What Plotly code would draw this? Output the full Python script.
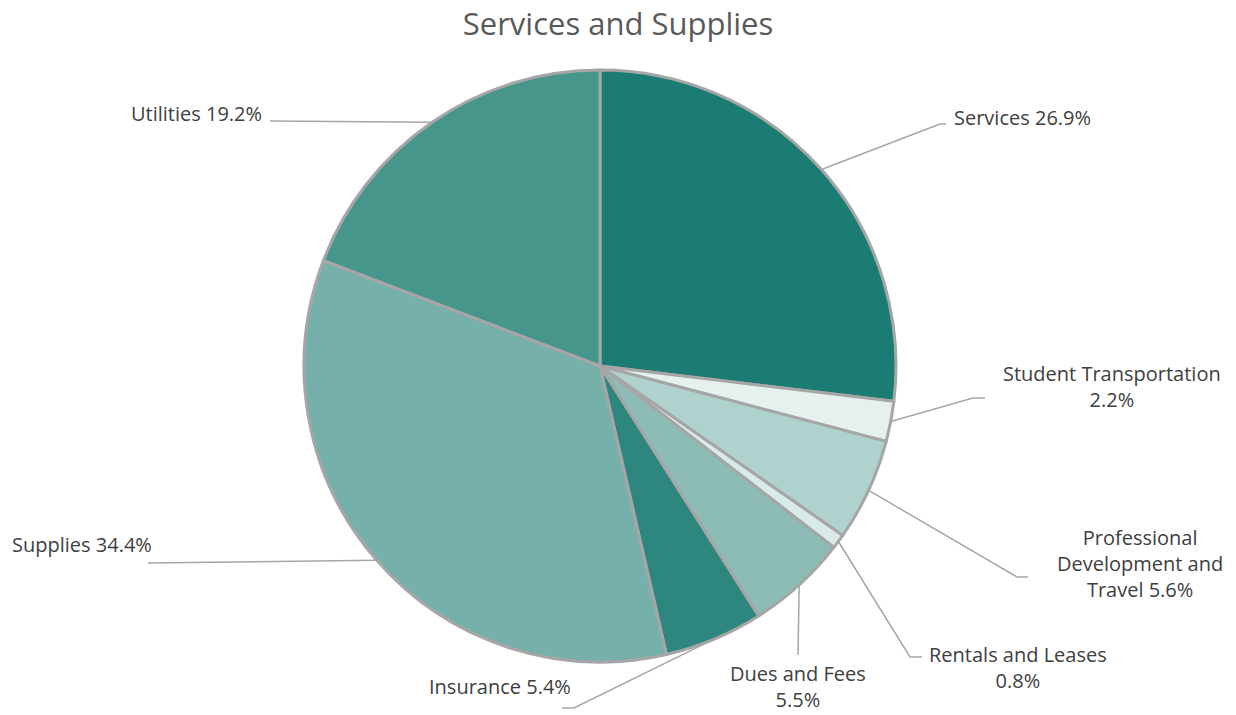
import math
import plotly.graph_objects as go

# ---- data ----
categories = ["Services", "Student Transportation", "Professional Development and Travel",
              "Rentals and Leases", "Dues and Fees", "Insurance", "Supplies", "Utilities"]
shares = [26.9, 2.2, 5.6, 0.8, 5.5, 5.4, 34.4, 19.2]
label_texts = ["Services 26.9%", "Student Transportation<br>2.2%",
               "Professional<br>Development and<br>Travel 5.6%", "Rentals and Leases<br>0.8%",
               "Dues and Fees<br>5.5%", "Insurance 5.4%", "Supplies 34.4%", "Utilities 19.2%"]

# ---- styling / layout ----
colors = ["#1b7c73", "#e6f1ef", "#b0d2ce", "#d8ebe8", "#8dbcb6", "#2e877f", "#76b0aa", "#46968c"]
W, H = 1236, 715
CX, CY, R = 600, 366, 296
# label anchor (x, y, anchor side)
label_pos = [(952, 117, "left"), (1112, 386, "center"), (1140, 563, "center"),
             (1018, 667, "center"), (798, 686, "center"), (573, 686, "right"),
             (10, 544, "left"), (264, 113, "right")]
elbows = [((940, 124), (946, 124)), ((973, 398), (985, 398)), ((1017, 577), (1028, 577)),
          ((910, 657), (922, 657)), ((798, 655), (798, 655)), ((574, 708), (562, 708)),
          ((148, 563), (148, 563)), ((270, 121), (270, 121))]
LABEL_FONT = dict(family="Open Sans", size=20, color="#404040")

fig = go.Figure()
fig.add_trace(go.Pie(
    labels=categories, values=shares, sort=False, direction="clockwise", rotation=0,
    marker=dict(colors=colors, line=dict(color="#a6a6a6", width=3)),
    textinfo="none", hoverinfo="label+percent", showlegend=False,
    domain=dict(x=[(CX - R) / W, (CX + R) / W], y=[(H - CY - R) / H, (H - CY + R) / H]),
))

total = sum(shares)
cum = 0.0
for i, v in enumerate(shares):
    mid = (cum + v / 2) / total * 2 * math.pi
    cum += v
    ex = CX + R * math.sin(mid)
    ey = CY - R * math.cos(mid)
    (bx, by), (tx, ty) = elbows[i]
    fig.add_trace(go.Scatter(x=[ex, bx, tx], y=[ey, by, ty], mode="lines",
                             line=dict(color="#a6a6a6", width=1.5),
                             hoverinfo="skip", showlegend=False))
    lx, ly, anc = label_pos[i]
    fig.add_annotation(x=lx, y=ly, xref="x", yref="y", text=label_texts[i],
                       showarrow=False, xanchor=anc, yanchor="middle", align="center",
                       font=LABEL_FONT)

fig.update_layout(
    width=W, height=H, margin=dict(l=0, r=0, t=0, b=0),
    paper_bgcolor="white", plot_bgcolor="rgba(0,0,0,0)",
    title=dict(text="Services and Supplies", x=0.5, xanchor="center", y=1 - 24 / H, yanchor="middle",
               font=dict(family="Open Sans", size=31, color="#595959")),
    xaxis=dict(range=[0, W], visible=False, fixedrange=True, domain=[0, 1]),
    yaxis=dict(range=[H, 0], visible=False, fixedrange=True, domain=[0, 1]),
)
fig.write_html("out.html")
